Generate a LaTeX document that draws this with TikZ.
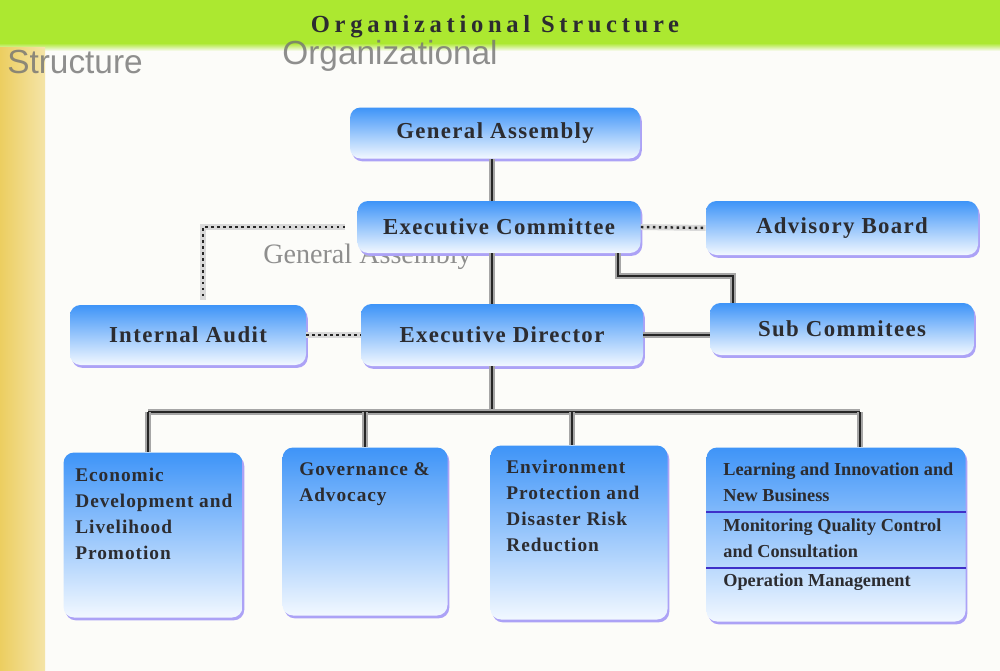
\documentclass[tikz,border=0pt]{standalone}
\usepackage{fontspec}
\setmainfont{Liberation Serif}
\newfontfamily\boxfont[LetterSpace=6]{Liberation Serif}
\newfontfamily\smallfont[LetterSpace=5]{Liberation Serif}
\newfontfamily\tightfont[LetterSpace=0]{Liberation Serif}
\newfontfamily\titlefont[LetterSpace=19]{Liberation Serif}
\newfontfamily\ghostfont{Liberation Sans}
\usepackage{tikz}
\usetikzlibrary{shadows}

\definecolor{bannergreen}{RGB}{172,232,48}
\definecolor{stripyellow}{RGB}{236,206,96}
\definecolor{pagewhite}{RGB}{252,252,249}
\definecolor{boxtop}{RGB}{62,148,248}
\definecolor{boxbottom}{RGB}{242,248,255}
\definecolor{boxshadow}{RGB}{172,162,246}
\definecolor{textgray}{RGB}{44,44,48}
\definecolor{divblue}{RGB}{62,48,200}

\begin{document}
\begin{tikzpicture}[
  orgbox/.style={rounded corners=6pt, top color=boxtop, bottom color=boxbottom,
    draw=none, inner sep=0pt,
    drop shadow={shadow xshift=1pt, shadow yshift=-1.6pt, fill=boxshadow, opacity=1}},
  boxlabel/.style={text=textgray, font=\boxfont\bfseries\fontsize{13}{15}\selectfont},
  unitlabel/.style={text=textgray, align=left, anchor=north west,
    font=\smallfont\bfseries\fontsize{11}{14.8}\selectfont},
  sectlabel/.style={unitlabel, font=\tightfont\bfseries\fontsize{10.4}{14.8}\selectfont},
  link/.style={draw=black!85, line width=0.9pt,
    preaction={draw=black!35, line width=3pt}},
  dotlink/.style={draw=black!85, dotted, line width=1.4pt,
    preaction={draw=black!15, line width=3.4pt}},
  divline/.style={draw=divblue, line width=1.1pt},
  ghost/.style={text=black!55, opacity=0.8}
]
\useasboundingbox (0,0) rectangle (20,-13.42);
% sfondo
\fill[pagewhite] (0,0) rectangle (20,-13.42);
\fill[bannergreen] (0,0) rectangle (20,-0.86);
\shade[top color=bannergreen, bottom color=pagewhite] (0,-0.86) rectangle (20,-1.02);
\shade[left color=stripyellow, right color=stripyellow!55] (0,-0.94) rectangle (0.9,-13.42);
% titolo
\node (title) at (9.9,-0.54) {\titlefont\bfseries\fontsize{14}{16}\selectfont\color{textgray}Organizational Structure};
% testi fantasma
\node[ghost, font=\ghostfont\fontsize{19}{20}\selectfont] (ghosta) at (1.5,-1.24) {Structure};
\node[ghost, font=\ghostfont\fontsize{19}{20}\selectfont] (ghostb) at (7.8,-1.12) {Organizational};
\node[ghost, font=\fontsize{16}{18}\selectfont] (ghostc) at (7.35,-5.14) {General Assembly};
% general assembly, radice
\node[orgbox, minimum width=5.8cm, minimum height=1.02cm] (ga) at (9.9,-2.66) {};
\node[boxlabel] at (ga) {General Assembly};
% executive committee
\node[orgbox, minimum width=5.66cm, minimum height=1.04cm] (ec) at (9.98,-4.54) {};
\node[boxlabel] at (ec) {Executive Committee};
% advisory board
\node[orgbox, minimum width=5.44cm, minimum height=1.08cm] (ab) at (16.84,-4.56) {};
\node[boxlabel] at (ab) {Advisory Board};
% internal audit
\node[orgbox, minimum width=4.72cm, minimum height=1.2cm] (ia) at (3.76,-6.7) {};
\node[boxlabel] at (ia) {Internal Audit};
% executive director
\node[orgbox, minimum width=5.64cm, minimum height=1.24cm] (ed) at (10.04,-6.7) {};
\node[boxlabel] at (ed) {Executive Director};
% sub commitees
\node[orgbox, minimum width=5.28cm, minimum height=1.04cm] (sc) at (16.84,-6.58) {};
\node[boxlabel] at (sc) {Sub Commitees};
% unita in basso
\node[orgbox, minimum width=3.58cm, minimum height=3.3cm] (ue) at (3.06,-10.7) {};
\node[unitlabel] at ([shift={(0.12,-0.2)}]ue.north west) {Economic\\Development and\\Livelihood\\Promotion};
\node[orgbox, minimum width=3.3cm, minimum height=3.36cm] (ug) at (7.3,-10.63) {};
\node[unitlabel] at ([shift={(0.22,-0.18)}]ug.north west) {Governance \&\\Advocacy};
\node[orgbox, minimum width=3.54cm, minimum height=3.48cm] (uen) at (11.58,-10.65) {};
\node[unitlabel] at ([shift={(0.2,-0.18)}]uen.north west) {Environment\\Protection and\\Disaster Risk\\Reduction};
\node[orgbox, minimum width=5.18cm, minimum height=3.48cm] (ul) at (16.72,-10.69) {};
\node[sectlabel] at ([shift={(0.22,-0.18)}]ul.north west) {Learning and Innovation and\\New Business};
\node[sectlabel] at ([shift={(0.22,-1.3)}]ul.north west) {Monitoring Quality Control\\and Consultation};
\node[sectlabel] at ([shift={(0.22,-2.4)}]ul.north west) {Operation Management};
\draw[divline] ([yshift=-1.3cm]ul.north west) -- ([yshift=-1.3cm]ul.north east);
\draw[divline] ([yshift=-2.42cm]ul.north west) -- ([yshift=-2.42cm]ul.north east);
% linee verticali principali
\coordinate (spine) at (9.84,0);
\draw[link] (ga.south -| spine) -- (ec.north -| spine);
\draw[link] (ec.south -| spine) -- (ed.north -| spine);
% barra orizzontale
\coordinate (bus) at (9.84,-8.24);
\coordinate (d1) at (2.96,-8.24);
\coordinate (d2) at (7.3,-8.24);
\coordinate (d3) at (11.44,-8.24);
\coordinate (d4) at (17.2,-8.24);
\draw[link] (ed.south -| spine) -- (bus);
\draw[link] (d1) -- (d4);
\draw[link] (d1) -- (d1 |- ue.north);
\draw[link] (d2) -- (d2 |- ug.north);
\draw[link] (d3) -- (d3 |- uen.north);
\draw[link] (d4) -- (d4 |- ul.north);
% collegamenti tratteggiati
\draw[dotlink] (ec.east) -- (ab.west);
\coordinate (auditcorner) at (4.06,-4.54);
\draw[dotlink] ([xshift=-0.24cm]ec.west) -- (auditcorner) -- ([yshift=0.1cm]ia.north -| auditcorner);
\draw[dotlink] (ia.east) -- (ed.west);
% sub commitees
\coordinate (subtop) at (12.36,-5.52);
\coordinate (subcorner) at (14.66,-5.52);
\draw[link] (ec.south -| subtop) -- (subtop) -- (subcorner) -- (sc.north -| subcorner);
\draw[link] (ed.east) -- (ed.east -| sc.west);
\end{tikzpicture}
\end{document}
